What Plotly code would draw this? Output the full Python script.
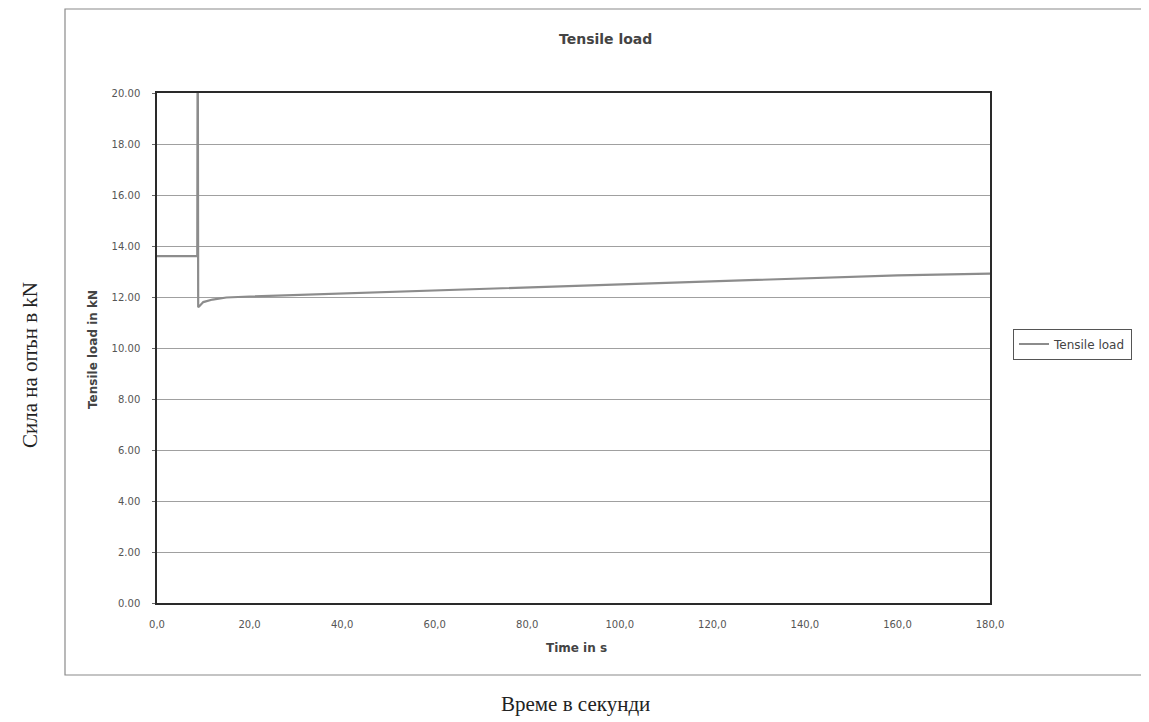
import plotly.graph_objects as go

# Data
time_s = [0, 8.7, 8.8, 8.9, 9.2, 10, 12, 15, 20, 30, 40, 60, 80, 100, 120, 140, 160, 180]
load_kn = [13.6, 13.6, 24.0, 11.6, 11.65, 11.8, 11.9, 11.98, 12.02, 12.08, 12.15, 12.25, 12.38, 12.5, 12.62, 12.75, 12.85, 12.92]

y_ticks = [0, 2, 4, 6, 8, 10, 12, 14, 16, 18, 20]
y_tick_labels = ["0.00", "2.00", "4.00", "6.00", "8.00", "10.00", "12.00", "14.00", "16.00", "18.00", "20.00"]
x_ticks = [0, 20, 40, 60, 80, 100, 120, 140, 160, 180]
x_tick_labels = ["0,0", "20,0", "40,0", "60,0", "80,0", "100,0", "120,0", "140,0", "160,0", "180,0"]

W, H = 1149, 722
OFF = 8  # page body margin
def px(x):
    return (x - OFF) / W
def py(y):
    return 1 - (y - OFF) / H

SANS = "DejaVu Sans, Arial, sans-serif"
SERIF = "Liberation Serif, Times New Roman, serif"

def label(text, x, y, size, family=SANS, color="#444", angle=0):
    return dict(text=text, x=px(x), y=py(y), xref="paper", yref="paper",
                xanchor="center", yanchor="middle", showarrow=False, textangle=angle,
                font=dict(family=family, size=size, color=color))

fig = go.Figure()
fig.add_trace(go.Scatter(
    x=time_s, y=load_kn, mode="lines", name="Tensile load",
    line=dict(color="#8c8c8c", width=2.2),
    showlegend=True,
))

fig.update_layout(
    width=W, height=H,
    margin=dict(l=0, r=0, t=0, b=0, pad=0, autoexpand=False),
    paper_bgcolor="white", plot_bgcolor="white",
    font=dict(family=SANS, color="#444"),
    showlegend=True,
    legend=dict(
        x=px(1013), y=py(344), xanchor="left", yanchor="middle",
        bordercolor="#555", borderwidth=1, bgcolor="white",
        font=dict(family=SANS, size=12, color="#444"),
        itemwidth=30,
    ),
    xaxis=dict(
        domain=[px(157), px(990)],
        range=[0, 180], tickvals=x_ticks, ticktext=x_tick_labels,
        showgrid=False, zeroline=False,
        showline=True, linecolor="#2a2a2a", linewidth=1.5, mirror=True,
        ticks="", ticklabelstandoff=11,
        tickfont=dict(family=SANS, size=10, color="#555"),
    ),
    yaxis=dict(
        domain=[py(603), py(93)],
        range=[0, 20], tickvals=y_ticks, ticktext=y_tick_labels,
        showgrid=True, gridcolor="#a0a0a0", gridwidth=1.2, zeroline=False,
        showline=True, linecolor="#2a2a2a", linewidth=1.5, mirror=True,
        ticks="outside", ticklen=3, tickcolor="#666", ticklabelstandoff=10,
        tickfont=dict(family=SANS, size=10, color="#555"),
    ),
    annotations=[
        label("<b>Tensile load</b>", 605, 39, 14),
        label("<b>Time in s</b>", 576, 648, 12),
        label("<b>Tensile load in kN</b>", 93, 350, 12, angle=-90),
        label("Сила на опън в kN", 30, 365, 21, family=SERIF, color="#222", angle=-90),
        label("Време в секунди", 575, 704, 21, family=SERIF, color="#222"),
    ],
    shapes=[
        dict(type="rect", xref="paper", yref="paper",
             x0=px(65), x1=px(1146), y0=py(675), y1=py(9),
             line=dict(color="#8a8a8a", width=1.2)),
    ],
)

fig.write_html("out.html")
